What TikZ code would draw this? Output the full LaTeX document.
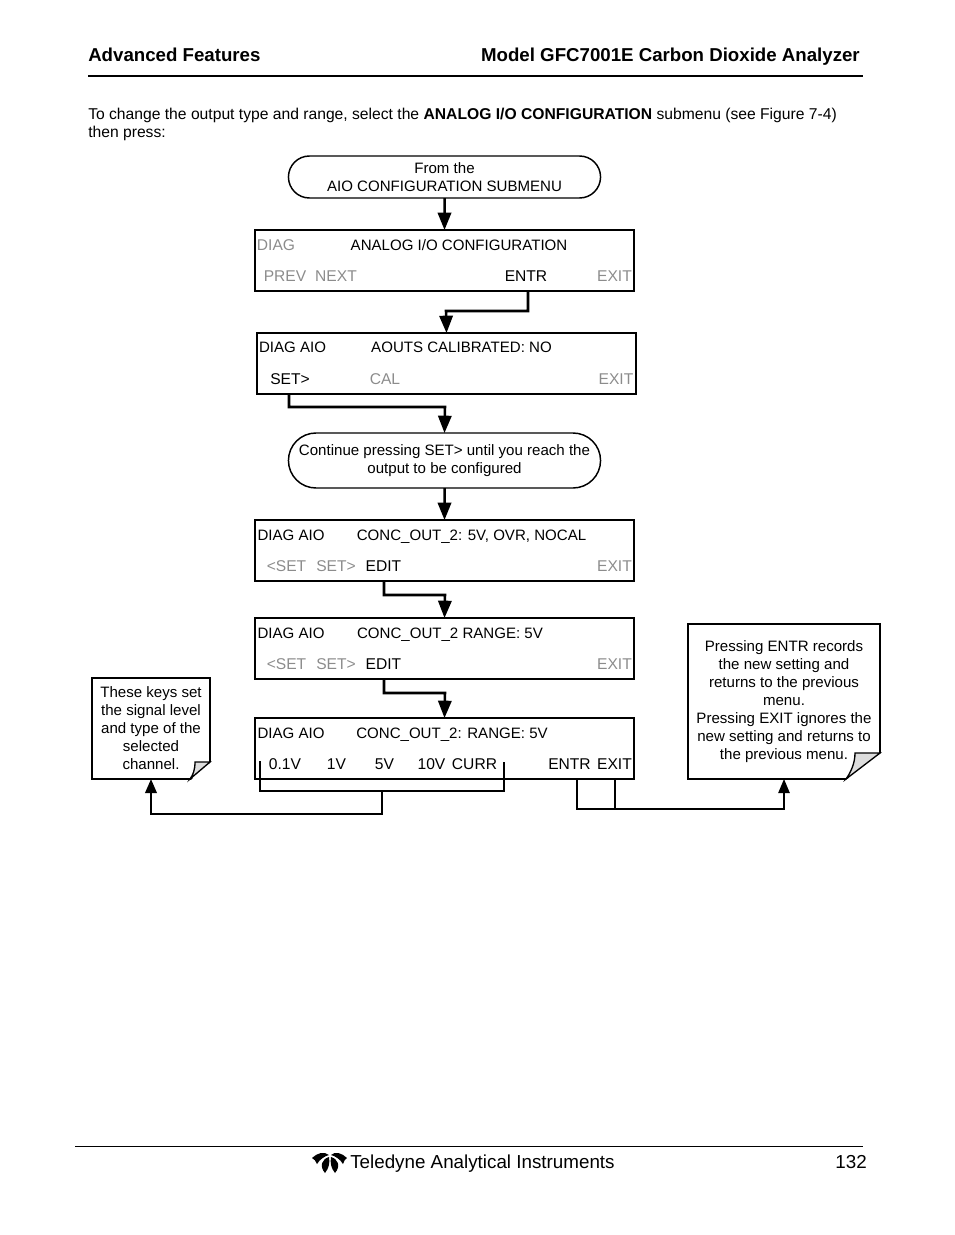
\documentclass[tikz,border=0pt]{standalone}
\usepackage{fontspec}
\setmainfont{Liberation Sans}
\usetikzlibrary{positioning, arrows.meta, shapes.misc}
\definecolor{keygray}{HTML}{8C8C8C}
\definecolor{foldgray}{HTML}{DDDDDD}
\tikzset{screen/.style={draw, line width=1.3pt, minimum width=284.25pt, minimum height=45.75pt, outer sep=0pt},
oval_t/.style={draw, rounded rectangle, line width=1.1pt, align=center, font=\fontsize{11.3}{13.5}\selectfont, minimum width=240.75pt, outer sep=0pt},
note_t/.style={draw, line width=1.1pt, align=center, font=\fontsize{11.3}{13.5}\selectfont, outer sep=0pt, inner sep=0pt},
key/.style={anchor=base, inner sep=0pt, font=\fontsize{11.7}{14}\selectfont},
title/.style={key, font=\fontsize{11.3}{14}\selectfont},
off/.style={key, text=keygray},
flow/.style={-{Triangle[length=13pt, width=10pt]}, line width=1.9pt},
wire/.style={line width=1.1pt},
page_t/.style={anchor=base, inner sep=0pt, font=\fontsize{14.1}{16}\selectfont}}

\begin{document}
\begin{tikzpicture}[x=0.75pt, y=-0.75pt]
  \useasboundingbox (0,0) rectangle (954,1235);
  % page header and body text
  \node[page_t, anchor=base west, font=\fontsize{14}{16}\selectfont\bfseries] (hdl) at (88,61) {Advanced Features};
  \node[page_t, anchor=base east, font=\fontsize{14}{16}\selectfont\bfseries] (hdr) at (860,61) {Model GFC7001E Carbon Dioxide Analyzer};
  \draw[line width=0.9pt] (88,76) -- (863,76);
  \node[anchor=base west, inner sep=0pt, font=\fontsize{11.75}{13.5}\selectfont] (introA) at (88,119) {To change the output type and range, select the \textbf{ANALOG I/O CONFIGURATION} submenu (see Figure 7-4)};
  \node[anchor=base west, inner sep=0pt, font=\fontsize{11.75}{13.5}\selectfont] (introB) at (88,137) {then press:};
  % flow column
  \node[oval_t, minimum height=31.5pt] (start) at (444.5,177) {From the\\AIO CONFIGURATION SUBMENU};
  \node[screen, below=24pt of start] (scrA) {};
  \node[screen, below=31.5pt of scrA, xshift=1.5pt] (scrB) {};
  \node[oval_t, minimum height=41.25pt, below=29.25pt of scrB, xshift=-1.5pt] (cont) {Continue pressing SET> until you reach the\\output to be configured};
  \node[screen, below=24pt of cont] (scrC) {};
  \node[screen, below=27.75pt of scrC] (scrD) {};
  \node[screen, below=29.25pt of scrD] (scrE) {};
  % screen A
  \node[off] (aDiag) at (276,250) {DIAG};
  \node[title] (aTitle) at (459,250) {ANALOG I/O CONFIGURATION};
  \node[off] (aPrev) at (285,281) {PREV};
  \node[off] (aNext) at (336,281) {NEXT};
  \node[key] (aEntr) at (526,281) {ENTR};
  \node[off] (aExit) at (614.5,281) {EXIT};
  % screen B
  \node[title] (bDiag) at (292.5,352) {DIAG AIO};
  \node[title] (bTitle) at (461.5,352) {AOUTS CALIBRATED: NO};
  \node[key] (bSet) at (290,384) {SET>};
  \node[off] (bCal) at (385,384) {CAL};
  \node[off] (bExit) at (616,384) {EXIT};
  % screen C
  \node[title] (cDiag) at (291,540) {DIAG AIO};
  \node[title] (cTitle) at (471.5,540) {CONC\_OUT\_2: 5V, OVR, NOCAL};
  \node[off] (cPrev) at (286.5,571) {<SET};
  \node[off] (cNext) at (336,571) {SET>};
  \node[key] (cEdit) at (383.5,571) {EDIT};
  \node[off] (cExit) at (614.5,571) {EXIT};
  % screen D
  \node[title] (dDiag) at (291,638) {DIAG AIO};
  \node[title] (dTitle) at (450,638) {CONC\_OUT\_2 RANGE: 5V};
  \node[off] (dPrev) at (286.5,669) {<SET};
  \node[off] (dNext) at (336,669) {SET>};
  \node[key] (dEdit) at (383.5,669) {EDIT};
  \node[off] (dExit) at (614.5,669) {EXIT};
  % screen E
  \node[title] (eDiag) at (291,738) {DIAG AIO};
  \node[title] (eTitle) at (452,738) {CONC\_OUT\_2: RANGE: 5V};
  \node[key] (eLow) at (285,769) {0.1V};
  \node[key] (eOne) at (336.5,769) {1V};
  \node[key] (eFive) at (384.5,769) {5V};
  \node[key] (eTen) at (431.5,769) {10V};
  \node[key] (eCurr) at (474.5,769) {CURR};
  \node[key] (eEntr) at (569.5,769) {ENTR};
  \node[key] (eExit) at (614.5,769) {EXIT};
  % side notes
  \node[note_t, minimum width=88.5pt, minimum height=75.75pt] (noteL) at (151,728.5) {These keys set\\the signal level\\and type of the\\selected\\channel.};
  \node[note_t, minimum width=144pt, minimum height=116.25pt] (noteR) at (784,701.5) {Pressing ENTR records\\the new setting and\\returns to the previous\\menu.\\Pressing EXIT ignores the\\new setting and returns to\\the previous menu.};
  \fill[white] (191,780) -- (211,780) -- (211,762) -- cycle;
  \filldraw[fill=foldgray, line width=1pt] (210,762) -- (195,762) .. controls (195,770) and (193,775) .. (190,779) -- cycle;
  \fill[white] (846,780) -- (881,780) -- (881,753) -- cycle;
  \filldraw[fill=foldgray, line width=1pt] (880,753) -- (855,753) .. controls (855,763) and (851,772) .. (846,779) -- cycle;
  % taps on the screens
  \coordinate (entrA) at (528,291);
  \coordinate (setB) at (289,394);
  \coordinate (editC) at (384,581);
  \coordinate (editD) at (384,679);
  \coordinate (brL) at (260,761);
  \coordinate (brR) at (504,762);
  \coordinate (brM) at (382,791);
  \coordinate (tapE) at (577,779);
  \coordinate (tapX) at (615,779);
  \coordinate (busR) at (615,809);
  % connectors
  \draw[flow] (start) -- (scrA.north -| start);
  \draw[flow] (entrA) |- (446,311) -- (scrB.north);
  \draw[flow] (setB) |- (445,407) -- (cont.north);
  \draw[flow] (cont) -- (scrC);
  \draw[flow] (editC) |- (445,595) -- (scrD.north);
  \draw[flow] (editD) |- (445,693) -- (scrE.north);
  \draw[wire] (brL) -- (260,791) -- (504,791) -- (brR);
  \draw[flow, -{Triangle[length=10.5pt, width=8.5pt]}] (brM) -- (382,814) -| (noteL.south);
  \draw[wire] (tapX) -- (busR);
  \draw[wire, -{Triangle[length=10.5pt, width=8.5pt]}] (tapE) |- (busR) -| (noteR.south);
  % page footer
  \draw[line width=0.6pt] (75,1146) -- (863,1146);
  \fill (312,1158) .. controls (317,1153) and (324,1151) .. (329,1155) .. controls (325,1156) and (320,1159) .. (317,1164) .. controls (316,1161) and (314,1159) .. (312,1158) -- cycle;
  \fill (347,1158) .. controls (342,1153) and (335,1151) .. (331,1155) .. controls (335,1156) and (340,1159) .. (343,1164) .. controls (344,1161) and (345,1159) .. (347,1158) -- cycle;
  \fill (329,1157) .. controls (322,1159) and (319,1166) .. (325,1173) .. controls (329,1168) and (330,1163) .. (329,1157) -- cycle;
  \fill (331,1157) .. controls (338,1159) and (341,1166) .. (335,1173) .. controls (331,1168) and (330,1163) .. (331,1157) -- cycle;
  \node[page_t, anchor=base west] (foot) at (350,1168) {Teledyne Analytical Instruments};
  \node[page_t, anchor=base east] (pageno) at (867,1168) {132};
\end{tikzpicture}
\end{document}
